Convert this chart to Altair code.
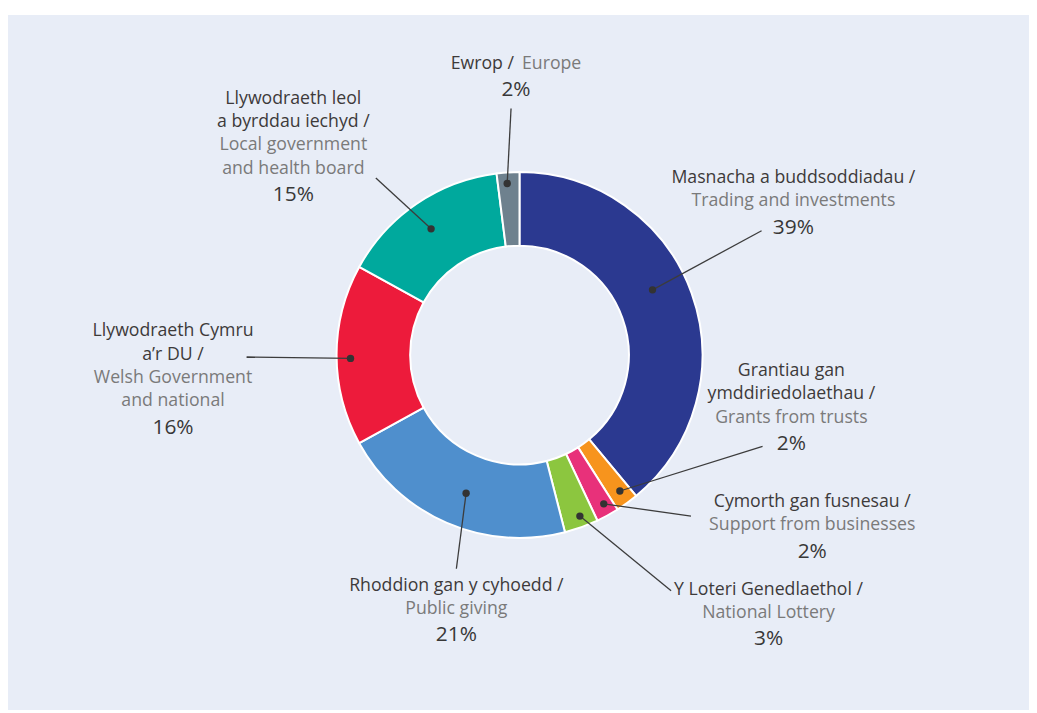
import math
import altair as alt
import pandas as pd

# ---------------- data ----------------
categories = ["Trading", "Grants", "Support", "Lottery", "Public", "WelshGov", "LocalGov", "Europe"]
welsh_names = [
    "Masnacha a buddsoddiadau /",
    "Grantiau gan|ymddiriedolaethau /",
    "Cymorth gan fusnesau /",
    "Y Loteri Genedlaethol /",
    "Rhoddion gan y cyhoedd /",
    "Llywodraeth Cymru|a’r DU /",
    "Llywodraeth leol|a byrddau iechyd /",
    "Ewrop /",
]
english_names = [
    "Trading and investments",
    "Grants from trusts",
    "Support from businesses",
    "National Lottery",
    "Public giving",
    "Welsh Government|and national",
    "Local government|and health board",
    "Europe",
]
shares = [39, 2, 2, 3, 21, 16, 15, 2]

# ---------------- styles / layout ----------------
slice_colors = ["#2b3990", "#f7941d", "#e8317a", "#8cc63f", "#4f8fcd", "#ed1b3b", "#00a99d", "#6e818e"]
PANEL = "#e8edf7"
WELSH_COL = "#3d3a3a"
ENG_COL = "#7a7a7a"
PCT_COL = "#383838"
LINE_COL = "#3c3c3c"
FONT = "Open Sans"

W, H = 1027, 699           # plot area (page x 8..1035, y 13..712)
X0, Y0 = 8, 13
CX, CY = 522.5, 355.0      # donut centre (page coords)
R_OUT, R_IN = 184, 110

label_x = [798, 796, 817, 773, 459, 174, 295, 519]
label_y = [177, 371, 503, 591, 587, 331, 97, 62]
line_end = [(766, 230), (767, 447), (695, 517), (675, 592), (459, 570), (248, 357), (378, 177), (514, 107)]
dot_r = [149, 170, 172, 173, 149, 170, 155, 173]
dot_frac = [0.455, 0.44, 0.40, 0.43, 0.47, 0.48, 0.485, 0.43]
LH = 23.5
PCT_GAP = 26.5

# ---------------- tables ----------------
arc_df = pd.DataFrame({"cat": categories, "share": shares, "idx": list(range(len(shares)))})

total = sum(shares)
cum = 0
dots, lines, texts, pcts = [], [], [], []
for i, s in enumerate(shares):
    a0 = cum / total * 2 * math.pi
    a1 = (cum + s) / total * 2 * math.pi
    cum += s
    a = a0 + (a1 - a0) * dot_frac[i]
    dx = CX + dot_r[i] * math.sin(a)
    dy = CY - dot_r[i] * math.cos(a)
    dots.append({"x": dx, "y": dy})
    lines.append({"x": dx, "y": dy, "x2": line_end[i][0], "y2": line_end[i][1]})

    y = label_y[i]
    if categories[i] == "Europe":
        texts.append({"x": label_x[i] - 2, "y": y, "t": welsh_names[i], "c": WELSH_COL, "al": "right"})
        texts.append({"x": label_x[i] + 6, "y": y, "t": english_names[i], "c": ENG_COL, "al": "left"})
        last = y
    else:
        rows = [(t, WELSH_COL) for t in welsh_names[i].split("|")] + \
               [(t, ENG_COL) for t in english_names[i].split("|")]
        for k, (t, c) in enumerate(rows):
            texts.append({"x": label_x[i], "y": y + k * LH, "t": t, "c": c, "al": "center"})
        last = y + (len(rows) - 1) * LH
    pcts.append({"x": label_x[i], "y": last + PCT_GAP, "t": f"{s}%"})

dots_df = pd.DataFrame(dots)
lines_df = pd.DataFrame(lines)
texts_df = pd.DataFrame(texts)
pcts_df = pd.DataFrame(pcts)

xs = alt.Scale(domain=[X0, X0 + W], nice=False, zero=False)
ys = alt.Scale(domain=[Y0 + H, Y0], nice=False, zero=False)

donut = alt.Chart(arc_df).mark_arc(
    innerRadius=R_IN, outerRadius=R_OUT, stroke="#ffffff", strokeWidth=2,
    x=CX - X0, y=CY - Y0,
).encode(
    theta=alt.Theta("share:Q", stack=True),
    color=alt.Color("cat:N", scale=alt.Scale(domain=categories, range=slice_colors), legend=None),
    order=alt.Order("idx:Q"),
)

leaders = alt.Chart(lines_df).mark_rule(color=LINE_COL, strokeWidth=1.3).encode(
    x=alt.X("x:Q", scale=xs, axis=None),
    y=alt.Y("y:Q", scale=ys, axis=None),
    x2="x2:Q",
    y2="y2:Q",
)

dot_layer = alt.Chart(dots_df).mark_circle(color="#333333", size=55, opacity=1).encode(
    x=alt.X("x:Q", scale=xs, axis=None),
    y=alt.Y("y:Q", scale=ys, axis=None),
)

def text_layer(align):
    d = texts_df[texts_df["al"] == align]
    return alt.Chart(d).mark_text(
        font=FONT, fontSize=17.8, align=align, baseline="middle"
    ).encode(
        x=alt.X("x:Q", scale=xs, axis=None),
        y=alt.Y("y:Q", scale=ys, axis=None),
        text="t:N",
        color=alt.Color("c:N", scale=None),
    )

pct_layer = alt.Chart(pcts_df).mark_text(
    font=FONT, fontSize=21, align="center", baseline="middle", color=PCT_COL
).encode(
    x=alt.X("x:Q", scale=xs, axis=None),
    y=alt.Y("y:Q", scale=ys, axis=None),
    text="t:N",
)

chart = alt.layer(
    donut, leaders, dot_layer,
    text_layer("center"), text_layer("left"), text_layer("right"),
    pct_layer,
).properties(
    width=W, height=H,
    autosize=alt.AutoSizeParams(type="none"),
    padding={"top": 5, "left": 0, "right": 0, "bottom": 0},
    background="#ffffff",
).configure_view(
    stroke=None, fill=PANEL
)

chart.save("out.html", embed_options={"renderer": "svg", "actions": False})
